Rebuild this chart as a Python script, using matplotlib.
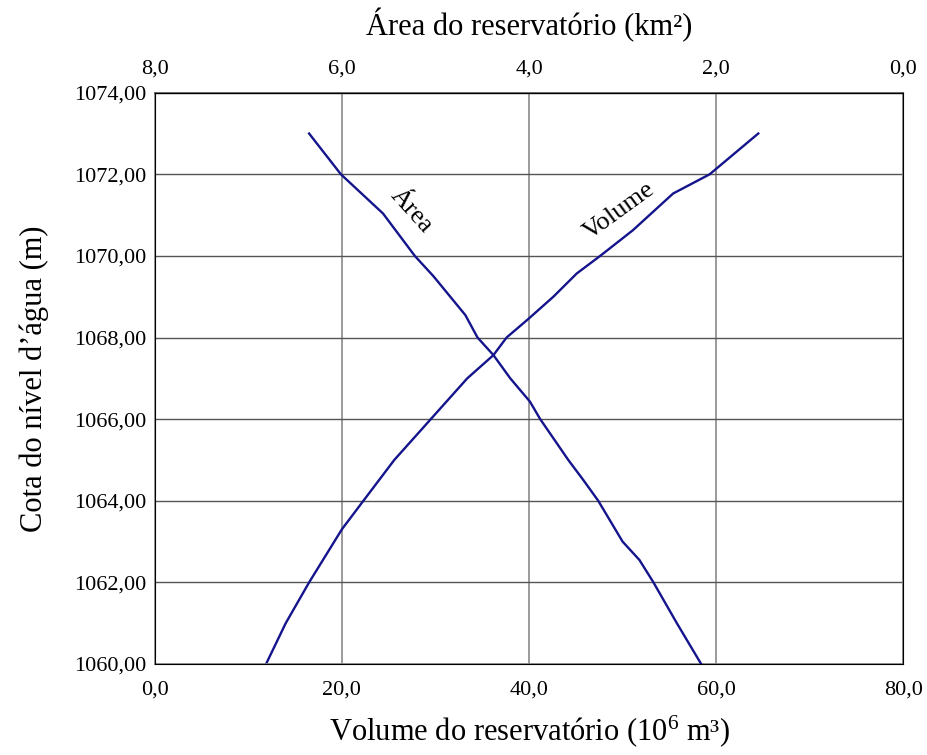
import matplotlib
matplotlib.use("Agg")
import matplotlib.pyplot as plt
from matplotlib.ticker import FuncFormatter

plt.rcParams.update({
    "font.family": ["Liberation Serif", "DejaVu Serif"],
    "mathtext.fontset": "custom",
    "mathtext.rm": "Liberation Serif",
    "mathtext.it": "Liberation Serif:italic",
})

# cota-volume curve (volume in 10^6 m3)
vol_elev = [1060.0, 1061.0, 1062.0, 1063.3, 1064.0, 1065.0, 1066.0, 1067.0,
            1067.57, 1068.0, 1068.45, 1069.0, 1069.57, 1070.0, 1070.63,
            1071.53, 1072.0, 1073.0]
volume = [11.9, 14.0, 16.5, 20.0, 22.3, 25.6, 29.5, 33.4,
          36.2, 37.6, 39.9, 42.6, 45.1, 47.6, 51.1,
          55.4, 59.3, 64.5]

# cota-area curve (area in km2)
area_elev = [1060.0, 1061.0, 1062.0, 1062.55, 1063.0, 1064.0, 1064.51, 1065.0,
             1066.0, 1066.43, 1067.0, 1067.57, 1068.0, 1068.55, 1069.5,
             1070.0, 1071.04, 1072.0, 1073.0]
area = [2.16, 2.42, 2.67, 2.82, 3.0, 3.26, 3.42, 3.58,
        3.88, 3.99, 4.2, 4.38, 4.55, 4.68, 5.02,
        5.22, 5.56, 6.01, 6.35]

vol_ticks = [0, 20, 40, 60, 80]
area_ticks = [8, 6, 4, 2, 0]
elev_ticks = list(range(1060, 1075, 2))

line_color = "#14148c"

fig = plt.figure(figsize=(9.28, 7.55), dpi=100)
ax = fig.add_axes([0.1667, 0.1205, 0.8067, 0.7567])

ax.plot(volume, vol_elev, color=line_color, linewidth=1.7)
ax.set_xlim(0, 80)
ax.set_ylim(1060, 1074)
ax.set_xticks(vol_ticks)
ax.set_yticks(elev_ticks)
ax.xaxis.set_major_formatter(FuncFormatter(lambda v, p: f"{v:.1f}".replace(".", ",")))
ax.yaxis.set_major_formatter(FuncFormatter(lambda v, p: f"{v:.2f}".replace(".", ",")))
ax.grid(True, axis="y", color="#555555", linewidth=1.0)
ax.grid(True, axis="x", color="#8a8a8a", linewidth=1.2)
ax.tick_params(axis="x", length=0, labelsize=16, pad=12)
ax.tick_params(axis="y", length=0, labelsize=16, pad=6)
ax.set_xlabel(r"Volume do reservatório (10$^{\mathrm{6}}$ m³)", fontsize=22, labelpad=10)
ax.set_ylabel("Cota do nível d’água (m)", fontsize=22, labelpad=18)
for s in ax.spines.values():
    s.set_color("#888888")
    s.set_linewidth(1.2)
ax.spines["top"].set_color("#555555")

ax2 = ax.twiny()
ax2.plot(area, area_elev, color=line_color, linewidth=1.7)
ax2.set_xlim(8, 0)
ax2.set_xticks(area_ticks)
ax2.xaxis.set_major_formatter(FuncFormatter(lambda v, p: f"{v:.1f}".replace(".", ",")))
ax2.tick_params(length=0, labelsize=16, pad=10)
ax2.set_xlabel("Área do reservatório (km²)", fontsize=22, labelpad=18)

ax.text(27.4, 1071.1, "Área", rotation=-48, fontsize=19, ha="center", va="center")
ax.text(49.7, 1071.1, "Volume", rotation=36, fontsize=19, ha="center", va="center")

fig.savefig("out.png", dpi=100, facecolor="white")
